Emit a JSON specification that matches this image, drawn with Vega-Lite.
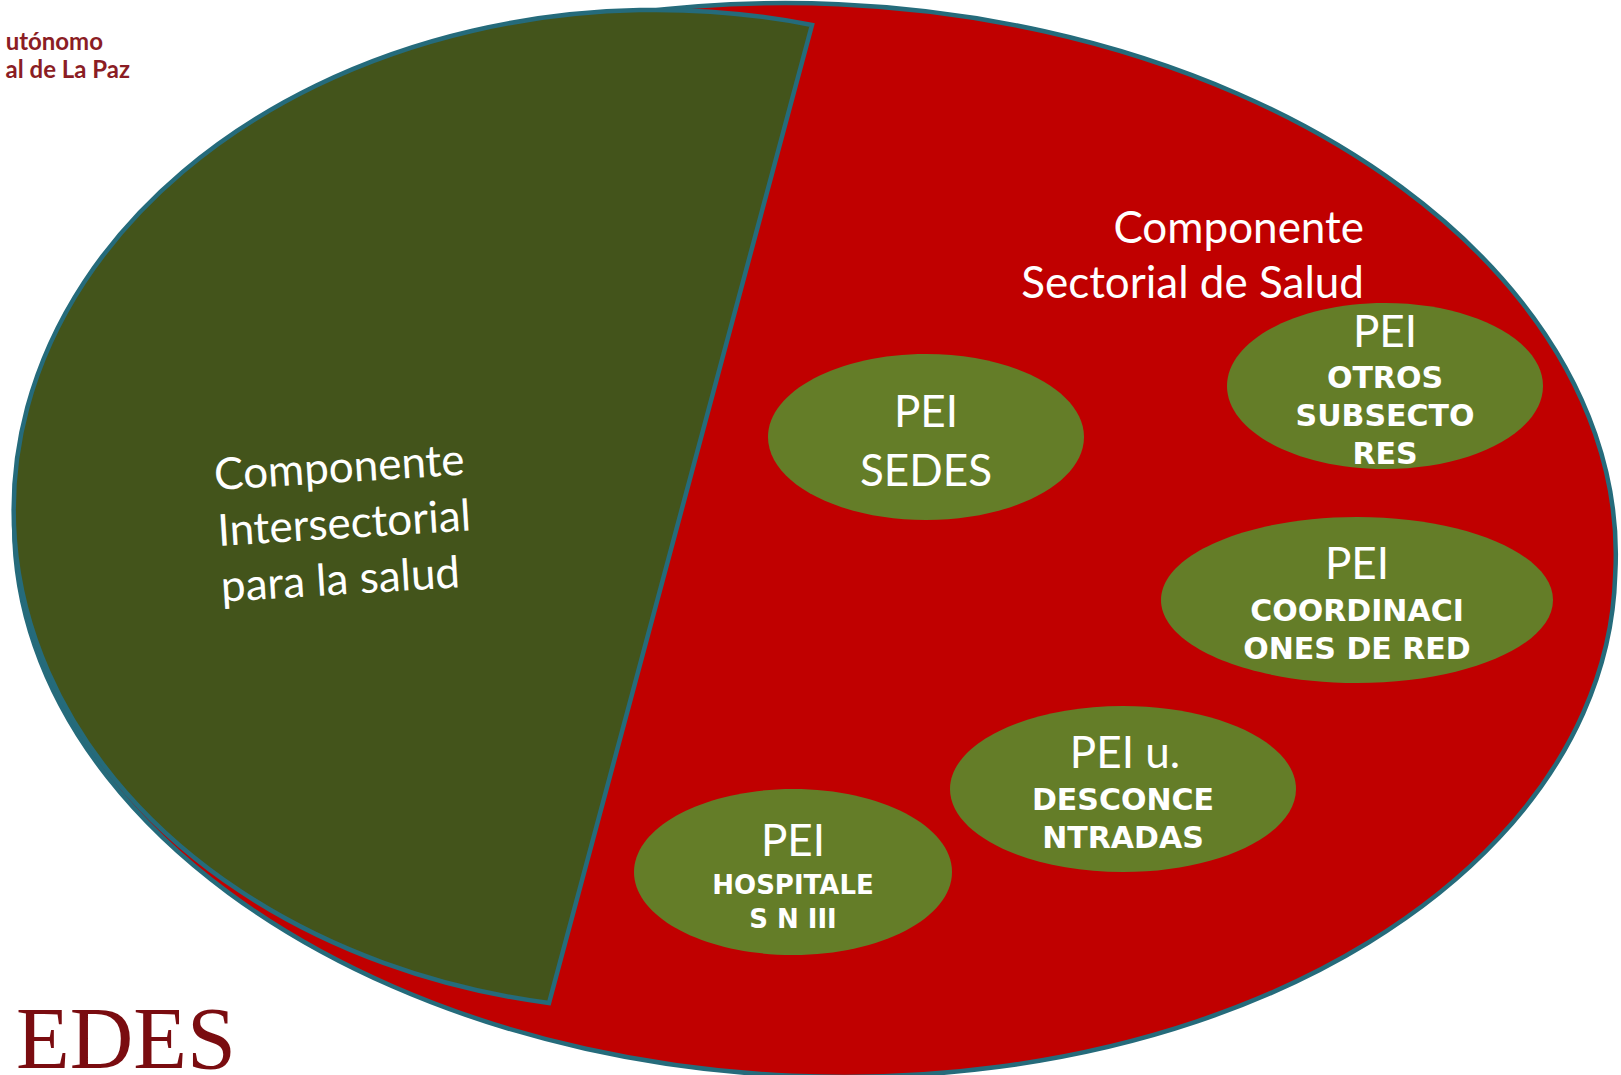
{
  "$schema": "https://vega.github.io/schema/vega-lite/v6.json",
  "width": 1621,
  "height": 1075,
  "autosize": {"type": "none"},
  "padding": 0,
  "background": "white",
  "config": {"view": {"stroke": null}},
  "datasets": {
    "shapes": [
      {"shape": "Sectorial", "x": 815, "y": 540},
      {"shape": "Intersectorial", "x": 656, "y": 510}
    ],
    "ellipses": [
      {"name": "SEDES", "x": 926, "y": 437},
      {"name": "OTROS", "x": 1385, "y": 386},
      {"name": "COORD", "x": 1357, "y": 600},
      {"name": "DESC", "x": 1123, "y": 789},
      {"name": "HOSP", "x": 793, "y": 872}
    ],
    "labels": [
      {"group": "pei", "text": "PEI\nSEDES", "x": 926, "y": 427},
      {"group": "pei", "text": "PEI", "x": 1385, "y": 347},
      {"group": "pei", "text": "PEI", "x": 1357, "y": 579},
      {"group": "pei", "text": "PEI u.", "x": 1125, "y": 768},
      {"group": "pei", "text": "PEI", "x": 793, "y": 856},
      {"group": "bold", "text": "OTROS\nSUBSECTO\nRES", "x": 1385, "y": 388},
      {"group": "bold", "text": "COORDINACI\nONES DE RED", "x": 1357, "y": 621},
      {"group": "bold", "text": "DESCONCE\nNTRADAS", "x": 1123, "y": 810},
      {"group": "boldsmall", "text": "HOSPITALE\nS N III", "x": 793, "y": 894},
      {"group": "title", "text": "Componente\nSectorial de Salud", "x": 1364, "y": 243},
      {"group": "titleRot", "text": "Componente\nIntersectorial\npara la salud", "x": 215, "y": 490},
      {"group": "logo", "text": "utónomo", "x": 103, "y": 50},
      {"group": "logo", "text": "al de La Paz", "x": 130, "y": 78},
      {"group": "sedes", "text": "EDES", "x": 16, "y": 1068}
    ]
  },
  "encoding": {
    "x": {"field": "x", "type": "quantitative", "scale": {"domain": [0, 1621], "nice": false, "zero": false}, "axis": null},
    "y": {"field": "y", "type": "quantitative", "scale": {"domain": [0, 1075], "nice": false, "zero": false, "reverse": true}, "axis": null}
  },
  "layer": [
    {
      "data": {"name": "shapes"},
      "transform": [{"filter": "datum.shape == 'Sectorial'"}],
      "mark": {"type": "point", "filled": true, "opacity": 1, "size": 4, "fill": "#C00000", "stroke": "#256B7B", "strokeWidth": 4.5,
        "shape": "M -800.2 -34.9 A 801 531 2.5 1 0 800.2 34.9 A 801 531 2.5 1 0 -800.2 -34.9 Z"}
    },
    {
      "data": {"name": "shapes"},
      "transform": [{"filter": "datum.shape == 'Intersectorial'"}],
      "mark": {"type": "point", "filled": true, "opacity": 1, "size": 4, "fill": "#43541B", "stroke": "#256B7B", "strokeWidth": 4.5, "strokeJoin": "miter",
        "shape": "M 156 -485 A 642 500 0 1 0 -107 493 Z"}
    },
    {
      "data": {"name": "ellipses"},
      "mark": {"type": "point", "filled": true, "opacity": 1, "size": 4, "fill": "#647D28", "strokeWidth": 0},
      "encoding": {
        "shape": {"field": "name", "type": "nominal", "legend": null,
          "scale": {"domain": ["SEDES", "OTROS", "COORD", "DESC", "HOSP"],
            "range": [
              "M -158 0 A 158 83 0 1 0 158 0 A 158 83 0 1 0 -158 0 Z",
              "M -158 0 A 158 83 0 1 0 158 0 A 158 83 0 1 0 -158 0 Z",
              "M -196 0 A 196 83 0 1 0 196 0 A 196 83 0 1 0 -196 0 Z",
              "M -173 0 A 173 83 0 1 0 173 0 A 173 83 0 1 0 -173 0 Z",
              "M -159 0 A 159 83 0 1 0 159 0 A 159 83 0 1 0 -159 0 Z"
            ]}}
      }
    },
    {
      "data": {"name": "labels"},
      "transform": [{"filter": "datum.group == 'pei'"}],
      "mark": {"type": "text", "font": "Lato", "fontSize": 44, "fill": "white", "align": "center", "baseline": "alphabetic", "lineBreak": "\n", "lineHeight": 59},
      "encoding": {"text": {"field": "text", "type": "nominal"}}
    },
    {
      "data": {"name": "labels"},
      "transform": [{"filter": "datum.group == 'bold'"}],
      "mark": {"type": "text", "font": "DejaVu Sans", "fontWeight": "bold", "fontSize": 30, "fill": "white", "align": "center", "baseline": "alphabetic", "lineBreak": "\n", "lineHeight": 38},
      "encoding": {"text": {"field": "text", "type": "nominal"}}
    },
    {
      "data": {"name": "labels"},
      "transform": [{"filter": "datum.group == 'boldsmall'"}],
      "mark": {"type": "text", "font": "DejaVu Sans", "fontWeight": "bold", "fontSize": 26, "fill": "white", "align": "center", "baseline": "alphabetic", "lineBreak": "\n", "lineHeight": 34},
      "encoding": {"text": {"field": "text", "type": "nominal"}}
    },
    {
      "data": {"name": "labels"},
      "transform": [{"filter": "datum.group == 'title'"}],
      "mark": {"type": "text", "font": "Lato", "fontSize": 44, "fill": "white", "align": "right", "baseline": "alphabetic", "lineBreak": "\n", "lineHeight": 55},
      "encoding": {"text": {"field": "text", "type": "nominal"}}
    },
    {
      "data": {"name": "labels"},
      "transform": [{"filter": "datum.group == 'titleRot'"}],
      "mark": {"type": "text", "font": "Lato", "fontSize": 44, "fill": "white", "align": "left", "baseline": "alphabetic", "angle": -3.5, "lineBreak": "\n", "lineHeight": 56},
      "encoding": {"text": {"field": "text", "type": "nominal"}}
    },
    {
      "data": {"name": "labels"},
      "transform": [{"filter": "datum.group == 'logo'"}],
      "mark": {"type": "text", "font": "Lato", "fontWeight": "bold", "fontSize": 24, "fill": "#8B1D24", "align": "right", "baseline": "alphabetic"},
      "encoding": {"text": {"field": "text", "type": "nominal"}}
    },
    {
      "data": {"name": "labels"},
      "transform": [{"filter": "datum.group == 'sedes'"}],
      "mark": {"type": "text", "font": "Liberation Serif", "fontSize": 88, "fill": "#7A0C10", "align": "left", "baseline": "alphabetic"},
      "encoding": {"text": {"field": "text", "type": "nominal"}}
    }
  ]
}
